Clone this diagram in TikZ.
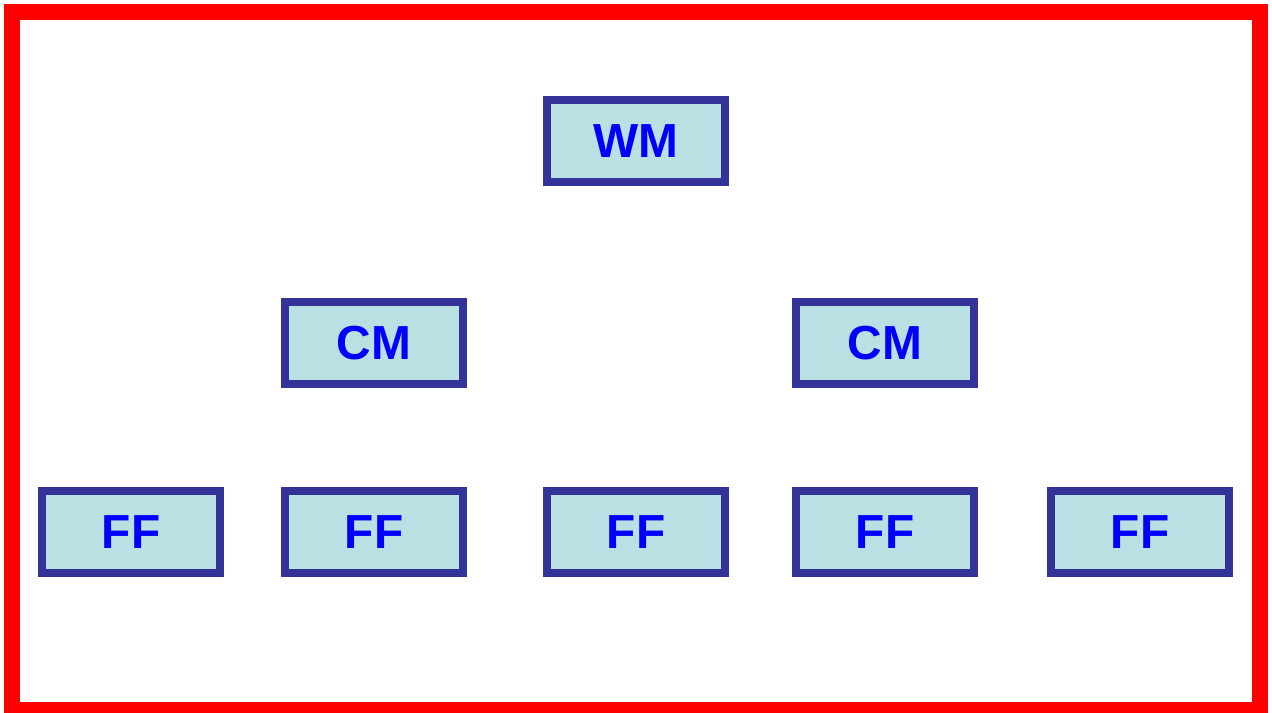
\documentclass[tikz,border=0pt]{standalone}
\usepackage{fontspec}
\setmainfont{Liberation Sans}
\definecolor{frame}{HTML}{FF0000}
\definecolor{boxline}{HTML}{333399}
\definecolor{boxfill}{HTML}{BBE0E3}
\definecolor{label}{HTML}{0000FF}
\begin{document}
\begin{tikzpicture}[x=1bp,y=-1bp,
  unit/.style={draw=boxline, fill=boxfill, line width=8bp,
    minimum width=178bp, minimum height=82bp, inner sep=0pt,
    text=label, font=\fontsize{48}{58}\selectfont\bfseries}]
  \useasboundingbox (0,0) rectangle (1272,713);
  % outer frame
  \draw[frame, line width=16bp] (12,12.5) rectangle (1260,710);
  % top level
  \node[unit] (wm) at (636,141) {WM};
  % middle level
  \node[unit] (cm1) at (374,343) {CM};
  \node[unit] (cm2) at (885,343) {CM};
  % bottom level
  \node[unit] (ff1) at (131,532) {FF};
  \node[unit] (ff2) at (374,532) {FF};
  \node[unit] (ff3) at (636,532) {FF};
  \node[unit] (ff4) at (885,532) {FF};
  \node[unit] (ff5) at (1140,532) {FF};
\end{tikzpicture}
\end{document}
